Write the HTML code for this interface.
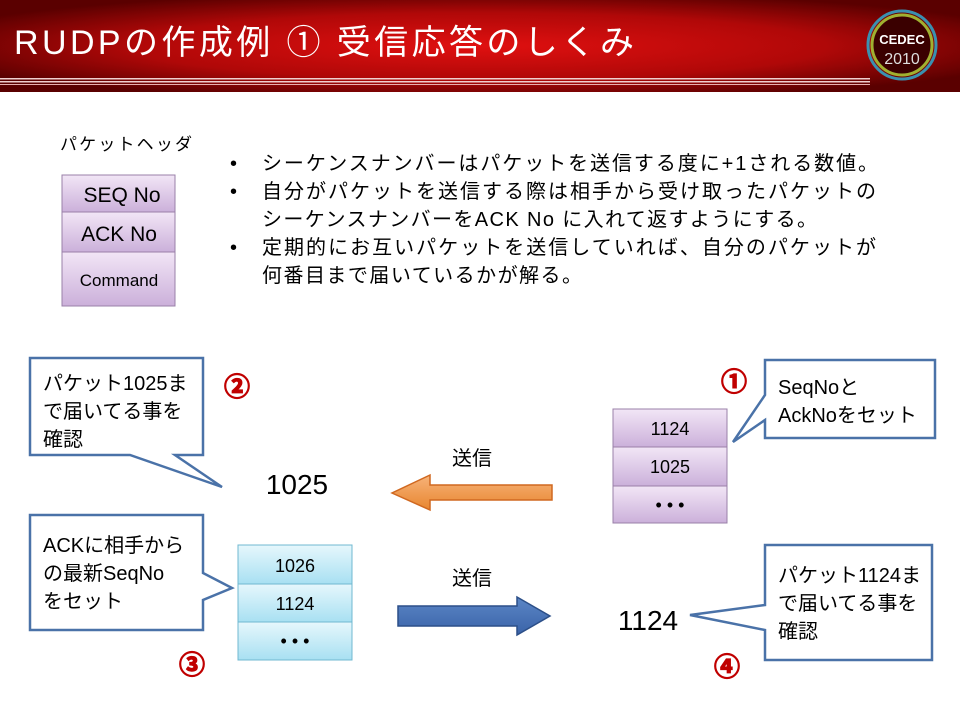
<!DOCTYPE html>
<html><head><meta charset="utf-8"><style>
html,body{margin:0;padding:0;background:#fff}
svg{display:block}
text{font-family:"Liberation Sans","Noto Sans CJK JP",sans-serif}
</style></head><body>
<svg width="960" height="720" viewBox="0 0 960 720" xmlns="http://www.w3.org/2000/svg">
<defs>
<radialGradient id="hd" cx="0.5" cy="0.5" r="0.6">
<stop offset="0" stop-color="#e01010"/><stop offset="0.6" stop-color="#b00808"/><stop offset="1" stop-color="#5a0000"/>
</radialGradient>
<linearGradient id="pu" x1="0" y1="0" x2="0" y2="1">
<stop offset="0" stop-color="#f2e6f6"/><stop offset="1" stop-color="#cbb0da"/>
</linearGradient>
<linearGradient id="cy" x1="0" y1="0" x2="0" y2="1">
<stop offset="0" stop-color="#e6f7fc"/><stop offset="1" stop-color="#a8e0f2"/>
</linearGradient>
<linearGradient id="or" x1="0" y1="0" x2="0" y2="1">
<stop offset="0" stop-color="#f7b37a"/><stop offset="1" stop-color="#e8862f"/>
</linearGradient>
<linearGradient id="bl" x1="0" y1="0" x2="0" y2="1">
<stop offset="0" stop-color="#5b86c6"/><stop offset="1" stop-color="#3a63a8"/>
</linearGradient>
</defs>
<rect x="0" y="0" width="960" height="92" fill="url(#hd)"/>
<rect x="0" y="78" width="870" height="1.5" fill="#f0d0d0"/>
<rect x="0" y="81" width="870" height="1.5" fill="#f0d0d0"/>
<rect x="0" y="84" width="870" height="1" fill="#e8b0b0"/>
<text x="14" y="54" font-size="34" fill="#fff" textLength="620">RUDPの作成例 ① 受信応答のしくみ</text>
<circle cx="902" cy="45" r="34" fill="none" stroke="#3a90b0" stroke-width="3"/>
<circle cx="902" cy="45" r="30" fill="#3a0000" stroke="#a0b030" stroke-width="3"/>
<text x="902" y="44" font-size="13" font-weight="bold" fill="#fff" text-anchor="middle">CEDEC</text>
<text x="902" y="64" font-size="16" fill="#ddd" text-anchor="middle">2010</text>

<text x="60" y="150" font-size="17" fill="#000" textLength="132">パケットヘッダ</text>
<g stroke="#9a80a8" stroke-width="1">
<rect x="62" y="175" width="113" height="37" fill="url(#pu)"/>
<rect x="62" y="212" width="113" height="40" fill="url(#pu)"/>
<rect x="62" y="252" width="113" height="54" fill="url(#pu)"/>
</g>
<text x="122" y="202" font-size="21" text-anchor="middle">SEQ No</text>
<text x="119" y="241" font-size="21" text-anchor="middle">ACK No</text>
<text x="119" y="286" font-size="17" text-anchor="middle">Command</text>

<g font-size="20" fill="#000">
<text x="230" y="170">•</text>
<text x="262" y="170" textLength="616">シーケンスナンバーはパケットを送信する度に+1される数値。</text>
<text x="230" y="198">•</text>
<text x="262" y="198" textLength="614">自分がパケットを送信する際は相手から受け取ったパケットの</text>
<text x="262" y="226" textLength="555">シーケンスナンバーをACK No に入れて返すようにする。</text>
<text x="230" y="254">•</text>
<text x="262" y="254" textLength="614">定期的にお互いパケットを送信していれば、自分のパケットが</text>
<text x="262" y="282" textLength="320">何番目まで届いているかが解る。</text>
</g>

<g fill="#fff" stroke="#4a72a8" stroke-width="2.5" stroke-linejoin="miter">
<path d="M30 358 H203 V455 H175 L222 487 L130 455 H30 Z"/>
<path d="M30 515 H203 V573 L232 588 L203 600 V630 H30 Z"/>
<path d="M765 360 H935 V438 H765 V420 L733 442 L765 395 Z"/>
<path d="M765 545 H932 V660 H765 V630 L690 615 L765 605 Z"/>
</g>
<g font-size="20" fill="#000">
<text x="43" y="390">パケット1025ま</text>
<text x="43" y="418">で届いてる事を</text>
<text x="43" y="446">確認</text>
<text x="43" y="552">ACKに相手から</text>
<text x="43" y="580">の最新SeqNo</text>
<text x="43" y="608">をセット</text>
<text x="778" y="394">SeqNoと</text>
<text x="778" y="422">AckNoをセット</text>
<text x="778" y="582">パケット1124ま</text>
<text x="778" y="610">で届いてる事を</text>
<text x="778" y="638">確認</text>
</g>

<g stroke="#9a80a8" stroke-width="1">
<rect x="613" y="409" width="114" height="38" fill="url(#pu)"/>
<rect x="613" y="447" width="114" height="39" fill="url(#pu)"/>
<rect x="613" y="486" width="114" height="37" fill="url(#pu)"/>
</g>
<g stroke="#70b8d0" stroke-width="1">
<rect x="238" y="545" width="114" height="39" fill="url(#cy)"/>
<rect x="238" y="584" width="114" height="38" fill="url(#cy)"/>
<rect x="238" y="622" width="114" height="38" fill="url(#cy)"/>
</g>
<g font-size="18" text-anchor="middle">
<text x="670" y="435">1124</text>
<text x="670" y="473">1025</text>
<text x="670" y="511">• • •</text>
<text x="295" y="572">1026</text>
<text x="295" y="610">1124</text>
<text x="295" y="647">• • •</text>
</g>

<path d="M552 485 H430 V475 L392 493 L430 510 V500 H552 Z" fill="url(#or)" stroke="#d06820" stroke-width="1.5"/>
<path d="M398 606 H517 V597 L550 616 L517 635 V626 H398 Z" fill="url(#bl)" stroke="#2c4f88" stroke-width="1.5"/>
<text x="472" y="465" font-size="20" text-anchor="middle">送信</text>
<text x="472" y="585" font-size="20" text-anchor="middle">送信</text>
<text x="297" y="494" font-size="28" text-anchor="middle">1025</text>
<text x="648" y="630" font-size="28" text-anchor="middle">1124</text>

<g font-size="26" font-weight="bold" fill="#c00000" stroke="#c00000" stroke-width="1.2" text-anchor="middle">
<text x="237" y="396" style="font-family:'Noto Sans CJK JP',sans-serif">②</text>
<text x="734" y="391" style="font-family:'Noto Sans CJK JP',sans-serif">①</text>
<text x="192" y="674" style="font-family:'Noto Sans CJK JP',sans-serif">③</text>
<text x="727" y="676" style="font-family:'Noto Sans CJK JP',sans-serif">④</text>
</g>
</svg>
</body></html>
